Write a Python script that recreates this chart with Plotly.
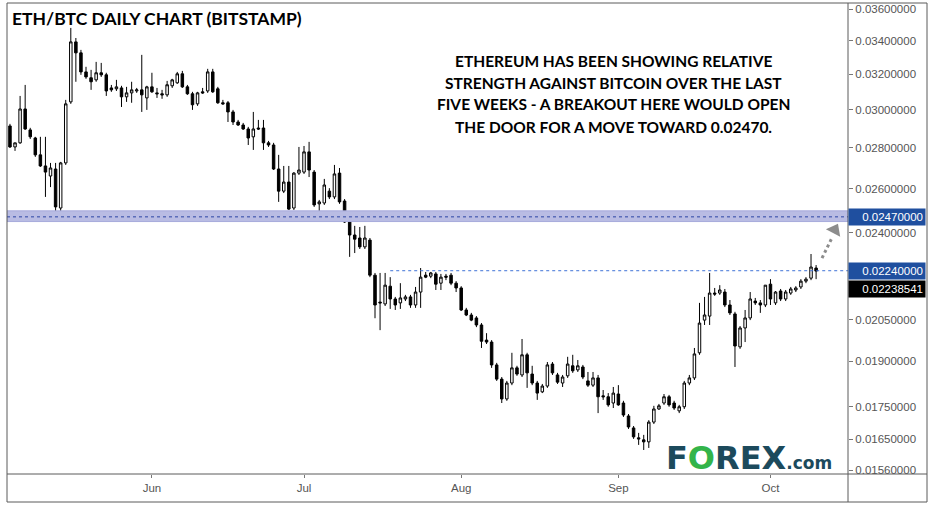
import math
import pandas as pd
import plotly.graph_objects as go

# ---------------- data (ETH/BTC daily, Bitstamp) ----------------
dates = pd.date_range("2019-05-04", periods=160, freq="D")

opens = [0.02913, 0.02804, 0.02825, 0.03004, 0.02892, 0.02850, 0.02764, 0.02709, 0.02660, 0.02694,
         0.02510, 0.02724, 0.03043, 0.03393, 0.03326, 0.03213, 0.03179, 0.03167, 0.03208, 0.03196,
         0.03121, 0.03116, 0.03121, 0.03071, 0.03093, 0.03104, 0.03110, 0.03065, 0.03127, 0.03093,
         0.03088, 0.03082, 0.03133, 0.03150, 0.03202, 0.03127, 0.03088, 0.03032, 0.03099, 0.03104,
         0.03213, 0.03116, 0.03038, 0.03038, 0.02988, 0.02934, 0.02918, 0.02897, 0.02856, 0.02902,
         0.02902, 0.02825, 0.02814, 0.02694, 0.02588, 0.02631, 0.02510, 0.02674, 0.02679, 0.02779,
         0.02679, 0.02529, 0.02533, 0.02588, 0.02561, 0.02674, 0.02542, 0.02447, 0.02390, 0.02377,
         0.02339, 0.02368, 0.02222, 0.02116, 0.02109, 0.02178, 0.02128, 0.02113, 0.02128, 0.02136,
         0.02105, 0.02155, 0.02222, 0.02218, 0.02227, 0.02190, 0.02218, 0.02222, 0.02190, 0.02171,
         0.02086, 0.02067, 0.02056, 0.02030, 0.01975, 0.01968, 0.01888, 0.01840, 0.01775, 0.01827,
         0.01878, 0.01854, 0.01923, 0.01857, 0.01827, 0.01798, 0.01817, 0.01891, 0.01854, 0.01827,
         0.01851, 0.01885, 0.01871, 0.01881, 0.01834, 0.01820, 0.01844, 0.01785, 0.01782, 0.01762,
         0.01791, 0.01762, 0.01721, 0.01684, 0.01654, 0.01648, 0.01642, 0.01702, 0.01743, 0.01762,
         0.01782, 0.01762, 0.01737, 0.01750, 0.01827, 0.01844, 0.01930, 0.02048, 0.02063, 0.02151,
         0.02151, 0.02155, 0.02105, 0.02071, 0.01951, 0.02019, 0.02056, 0.02120, 0.02113, 0.02105,
         0.02186, 0.02113, 0.02159, 0.02128, 0.02151, 0.02163, 0.02175, 0.02198, 0.02210, 0.02251]

highs = [0.02924, 0.02825, 0.03076, 0.03138, 0.02903, 0.02856, 0.02856, 0.02856, 0.02724, 0.02724,
         0.02729, 0.03054, 0.03480, 0.03417, 0.03344, 0.03243, 0.03225, 0.03272, 0.03266, 0.03208,
         0.03138, 0.03167, 0.03133, 0.03127, 0.03156, 0.03121, 0.03314, 0.03133, 0.03208, 0.03121,
         0.03110, 0.03161, 0.03173, 0.03213, 0.03219, 0.03138, 0.03099, 0.03099, 0.03121, 0.03231,
         0.03231, 0.03127, 0.03054, 0.03048, 0.02999, 0.02945, 0.02929, 0.02908, 0.02988, 0.02945,
         0.02945, 0.02835, 0.02825, 0.02764, 0.02709, 0.02709, 0.02679, 0.02804, 0.02809, 0.02830,
         0.02689, 0.02547, 0.02646, 0.02602, 0.02714, 0.02699, 0.02551, 0.02456, 0.02430, 0.02425,
         0.02430, 0.02377, 0.02231, 0.02231, 0.02231, 0.02214, 0.02136, 0.02190, 0.02144, 0.02144,
         0.02175, 0.02251, 0.02235, 0.02235, 0.02235, 0.02227, 0.02227, 0.02231, 0.02198, 0.02178,
         0.02094, 0.02075, 0.02063, 0.02037, 0.02000, 0.01975, 0.01895, 0.01847, 0.01834, 0.01930,
         0.01885, 0.01979, 0.01930, 0.01885, 0.01834, 0.01824, 0.01898, 0.01898, 0.01861, 0.01854,
         0.01916, 0.01923, 0.01905, 0.01888, 0.01864, 0.01864, 0.01854, 0.01804, 0.01794, 0.01814,
         0.01820, 0.01769, 0.01727, 0.01690, 0.01669, 0.01663, 0.01708, 0.01753, 0.01759, 0.01791,
         0.01788, 0.01769, 0.01756, 0.01834, 0.01854, 0.01947, 0.02113, 0.02136, 0.02231, 0.02171,
         0.02182, 0.02167, 0.02124, 0.02079, 0.02026, 0.02086, 0.02155, 0.02132, 0.02124, 0.02182,
         0.02206, 0.02159, 0.02167, 0.02163, 0.02175, 0.02178, 0.02206, 0.02214, 0.02309, 0.02263]

lows = [0.02799, 0.02784, 0.02820, 0.02892, 0.02845, 0.02754, 0.02704, 0.02561, 0.02607, 0.02460,
        0.02487, 0.02714, 0.03032, 0.03156, 0.03196, 0.03173, 0.03110, 0.03156, 0.03184, 0.03076,
        0.03099, 0.03104, 0.03015, 0.03043, 0.03038, 0.03093, 0.02988, 0.02999, 0.03093, 0.03065,
        0.03060, 0.03071, 0.03121, 0.03144, 0.03121, 0.03082, 0.02999, 0.03021, 0.03088, 0.03093,
        0.03093, 0.03032, 0.03027, 0.02934, 0.02918, 0.02913, 0.02892, 0.02814, 0.02789, 0.02892,
        0.02789, 0.02804, 0.02689, 0.02538, 0.02579, 0.02501, 0.02501, 0.02665, 0.02670, 0.02655,
        0.02515, 0.02492, 0.02524, 0.02551, 0.02551, 0.02529, 0.02443, 0.02297, 0.02313, 0.02330,
        0.02330, 0.02214, 0.02055, 0.02011, 0.02101, 0.02090, 0.02086, 0.02090, 0.02120, 0.02094,
        0.02094, 0.02094, 0.02210, 0.02210, 0.02163, 0.02163, 0.02202, 0.02182, 0.02155, 0.02082,
        0.02063, 0.02044, 0.02022, 0.01947, 0.01961, 0.01878, 0.01834, 0.01762, 0.01769, 0.01820,
        0.01851, 0.01847, 0.01811, 0.01820, 0.01772, 0.01794, 0.01811, 0.01854, 0.01824, 0.01814,
        0.01844, 0.01861, 0.01864, 0.01840, 0.01814, 0.01814, 0.01730, 0.01772, 0.01750, 0.01746,
        0.01753, 0.01718, 0.01681, 0.01651, 0.01633, 0.01618, 0.01624, 0.01696, 0.01740, 0.01756,
        0.01750, 0.01740, 0.01730, 0.01743, 0.01820, 0.01837, 0.01923, 0.02030, 0.02030, 0.02140,
        0.02144, 0.02097, 0.02067, 0.01881, 0.01944, 0.01968, 0.02048, 0.02105, 0.02075, 0.02097,
        0.02105, 0.02105, 0.02120, 0.02120, 0.02144, 0.02155, 0.02167, 0.02190, 0.02202, 0.02206]

closes = [0.02804, 0.02825, 0.03004, 0.02897, 0.02856, 0.02764, 0.02709, 0.02679, 0.02699, 0.02515,
          0.02724, 0.03032, 0.03393, 0.03326, 0.03213, 0.03184, 0.03156, 0.03208, 0.03196, 0.03104,
          0.03110, 0.03127, 0.03071, 0.03093, 0.03110, 0.03110, 0.03082, 0.03127, 0.03099, 0.03088,
          0.03082, 0.03139, 0.03167, 0.03202, 0.03127, 0.03088, 0.03027, 0.03093, 0.03093, 0.03213,
          0.03099, 0.03038, 0.03032, 0.02988, 0.02934, 0.02918, 0.02897, 0.02850, 0.02897, 0.02897,
          0.02825, 0.02814, 0.02694, 0.02588, 0.02631, 0.02505, 0.02674, 0.02689, 0.02779, 0.02689,
          0.02524, 0.02538, 0.02617, 0.02561, 0.02670, 0.02538, 0.02447, 0.02390, 0.02372, 0.02339,
          0.02377, 0.02222, 0.02105, 0.02113, 0.02182, 0.02128, 0.02105, 0.02132, 0.02136, 0.02105,
          0.02155, 0.02214, 0.02214, 0.02231, 0.02186, 0.02214, 0.02214, 0.02190, 0.02171, 0.02086,
          0.02067, 0.02048, 0.02030, 0.01971, 0.01968, 0.01888, 0.01840, 0.01775, 0.01827, 0.01878,
          0.01857, 0.01923, 0.01861, 0.01827, 0.01794, 0.01817, 0.01888, 0.01861, 0.01830, 0.01847,
          0.01891, 0.01868, 0.01885, 0.01847, 0.01820, 0.01844, 0.01782, 0.01782, 0.01756, 0.01794,
          0.01756, 0.01724, 0.01687, 0.01657, 0.01651, 0.01642, 0.01702, 0.01743, 0.01753, 0.01782,
          0.01756, 0.01746, 0.01750, 0.01827, 0.01844, 0.01926, 0.02037, 0.02067, 0.02151, 0.02147,
          0.02163, 0.02105, 0.02075, 0.01954, 0.02019, 0.02056, 0.02128, 0.02113, 0.02105, 0.02182,
          0.02128, 0.02155, 0.02128, 0.02155, 0.02167, 0.02171, 0.02198, 0.02206, 0.02255, 0.02238541]

y_ticks = [0.036, 0.034, 0.032, 0.030, 0.028, 0.026, 0.024, 0.0205, 0.019, 0.0175, 0.0165, 0.0156]
resistance_zone = [0.02449, 0.02497]
target_level = 0.02470
breakout_level = 0.02240
last_price = 0.02238541
breakout_line_start = "2019-07-18"
x_range = ["2019-05-03 10:00", "2019-10-16 07:00"]
y_range = [0.01549, 0.03641]
arrow_x = ["2019-10-11 04:00", "2019-10-13 00:00"]
arrow_y = [0.02292, 0.02372]
arrow_head = ("2019-10-13 16:00", 0.02412)

annotation_lines = ["ETHEREUM HAS BEEN SHOWING RELATIVE",
                    "STRENGTH AGAINST BITCOIN OVER THE LAST",
                    "FIVE WEEKS - A BREAKOUT HERE WOULD OPEN",
                    "THE DOOR FOR A MOVE TOWARD 0.02470."]

# ---------------- figure ----------------
fig = go.Figure()

# resistance zone band
fig.add_trace(go.Scatter(
    x=[x_range[0], x_range[1], x_range[1], x_range[0], x_range[0]],
    y=[resistance_zone[0], resistance_zone[0], resistance_zone[1], resistance_zone[1], resistance_zone[0]],
    fill="toself", fillcolor="#b9bce3", mode="lines",
    line=dict(color="#a6aadb", width=1), hoverinfo="skip", showlegend=False))
fig.add_trace(go.Scatter(
    x=x_range, y=[target_level, target_level], mode="lines",
    line=dict(color="#2c45a6", width=1, dash="dot"), hoverinfo="skip", showlegend=False))
fig.add_trace(go.Scatter(
    x=[breakout_line_start, x_range[1]], y=[breakout_level, breakout_level], mode="lines",
    line=dict(color="#3f72d6", width=1, dash="dot"), hoverinfo="skip", showlegend=False))

fig.add_trace(go.Candlestick(
    x=dates, open=opens, high=highs, low=lows, close=closes,
    increasing=dict(line=dict(color="#000000", width=1), fillcolor="#ffffff"),
    decreasing=dict(line=dict(color="#000000", width=1), fillcolor="#000000"),
    whiskerwidth=0, hoverinfo="skip", showlegend=False))

# projection arrow
fig.add_trace(go.Scatter(
    x=arrow_x, y=arrow_y, mode="lines",
    line=dict(color="#8c8c8c", width=3, dash="dot"), hoverinfo="skip", showlegend=False))
fig.add_trace(go.Scatter(
    x=[arrow_head[0]], y=[arrow_head[1]], mode="markers",
    marker=dict(symbol="triangle-up", size=14, angle=28, color="#8c8c8c"),
    hoverinfo="skip", showlegend=False))

PW, PH = 841.0, 471.0
annotations = []
annotations.append(dict(
    text="<b>ETH/BTC DAILY CHART (BITSTAMP)</b>", xref="paper", yref="paper",
    x=(10 - 7) / PW, y=1 - (19 - 3) / PH, xanchor="left", yanchor="middle",
    showarrow=False, font=dict(family="Lato", size=17.5, color="#000000")))
line_centers = [61, 83, 104, 127]
for txt, yc in zip(annotation_lines, line_centers):
    annotations.append(dict(
        text="<b>" + txt + "</b>", xref="paper", yref="paper",
        x=(613 - 7) / PW, y=1 - (yc - 3) / PH, xanchor="center", yanchor="middle",
        showarrow=False, font=dict(family="Lato", size=15.5, color="#000000")))

# price labels on the right axis
for val, bg, shift in [(target_level, "#1f4f9f", 0), (breakout_level, "#1f4f9f", 0), (last_price, "#000000", -18)]:
    annotations.append(dict(
        text="%.8f" % val, xref="paper", yref="y", x=1.0, y=math.log10(val),
        xanchor="left", yanchor="middle", yshift=shift, showarrow=False,
        bgcolor=bg, width=72, align="right", borderpad=2,
        font=dict(family="Liberation Sans, Arial", size=11.5, color="#ffffff")))

# logo
annotations.append(dict(
    text="<b>F<span style='color:#33b44a'>O</span>REX</b><b><span style='font-size:17px'>.com</span></b>",
    xref="paper", yref="paper", x=(749 - 7) / PW, y=1 - (458 - 3) / PH,
    xanchor="center", yanchor="middle", showarrow=False,
    font=dict(family="DejaVu Sans", size=32, color="#1c4a5c")))

xr = (927 - 7) / PW
yb = -(502 - 474) / PH
border = dict(color="#5a5a5a", width=1)
shapes = [
    dict(type="rect", xref="paper", yref="paper", x0=0, x1=xr, y0=yb, y1=1, line=border),
    dict(type="line", xref="paper", yref="paper", x0=1, x1=1, y0=yb, y1=1, line=border),
    dict(type="line", xref="paper", yref="paper", x0=0, x1=xr, y0=0, y1=0, line=border),
]

fig.update_layout(
    width=934, height=507,
    margin=dict(l=7, r=86, t=3, b=33, autoexpand=False),
    paper_bgcolor="#ffffff", plot_bgcolor="#ffffff",
    annotations=annotations, shapes=shapes,
    xaxis=dict(type="date", range=x_range, rangeslider=dict(visible=False),
               showgrid=False, zeroline=False, showline=False,
               tickformat="%b", dtick="M1", tick0="2019-06-01",
               ticks="outside", ticklen=3, tickcolor="#777777",
               tickfont=dict(family="Liberation Sans, Arial", size=11.5, color="#555555")),
    yaxis=dict(type="log", side="right", range=[math.log10(y_range[0]), math.log10(y_range[1])],
               tickmode="array", tickvals=y_ticks, ticktext=["%.8f" % v for v in y_ticks],
               showgrid=False, zeroline=False, showline=False,
               ticks="outside", ticklen=4, tickcolor="#777777",
               tickfont=dict(family="Liberation Sans, Arial", size=11.5, color="#555555")),
    hovermode=False,
)

fig.write_html("out.html")
